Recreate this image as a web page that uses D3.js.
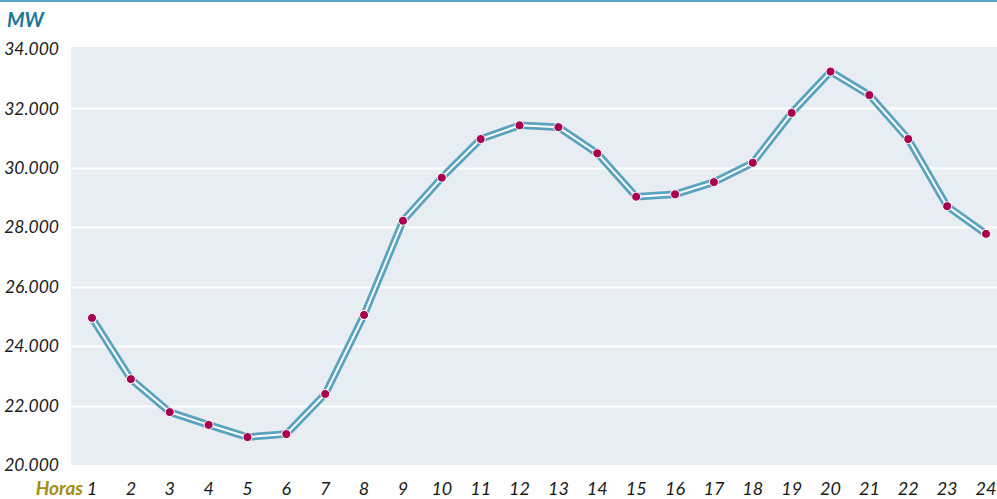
<!DOCTYPE html>
<html>
<head>
<meta charset="utf-8">
<script src="https://cdn.jsdelivr.net/npm/d3@7"></script>
<style>
  body { margin: 0; background: #fff; }
  text { font-family: Lato, "Open Sans", sans-serif; font-style: italic; }
</style>
</head>
<body>
<script>
// hourly demand, MW
var horas = d3.range(1, 25);
var demanda = [24950, 22890, 21780, 21350, 20940, 21040, 22390, 25050, 28220, 29670,
  30970, 31430, 31370, 30490, 29030, 29110, 29520, 30170, 31850, 33240,
  32450, 30970, 28710, 27780];
var yTicks = [20000, 22000, 24000, 26000, 28000, 30000, 32000, 34000];

var width = 997, height = 499;

var svg = d3.select("body").append("svg")
  .attr("width", width)
  .attr("height", height);

var x = d3.scaleLinear().domain([1, 24]).range([92, 986]);
var y = d3.scaleLinear().domain([20000, 34000]).range([465, 49]);

// top rule
svg.append("line")
  .attr("x1", 0).attr("x2", width)
  .attr("y1", 1).attr("y2", 1)
  .attr("stroke", "#5aa6c6")
  .attr("stroke-width", 2);

// plot background
svg.append("rect")
  .attr("x", 71).attr("y", 47)
  .attr("width", width - 71).attr("height", 465 - 47)
  .attr("fill", "#e8edf2");

// grid
svg.selectAll(".grid")
  .data(yTicks.slice(1, -1))
  .enter().append("line")
  .attr("class", "grid")
  .attr("x1", 71).attr("x2", width)
  .attr("y1", function(d) { return Math.round(y(d)) + 0.5; })
  .attr("y2", function(d) { return Math.round(y(d)) + 0.5; })
  .attr("stroke", "#fff")
  .attr("stroke-width", 2);

// y labels
svg.selectAll(".ylab")
  .data(yTicks)
  .enter().append("text")
  .attr("class", "ylab")
  .attr("x", 59)
  .attr("y", function(d) { return y(d); })
  .attr("dy", "0.35em")
  .attr("text-anchor", "end")
  .attr("font-size", 17.5)
  .attr("fill", "#1a1a1a")
  .text(function(d) { return d3.format(".3f")(d / 1000); });

// x labels
svg.selectAll(".xlab")
  .data(horas)
  .enter().append("text")
  .attr("class", "xlab")
  .attr("x", function(d) { return x(d); })
  .attr("y", 495)
  .attr("text-anchor", "middle")
  .attr("font-size", 18)
  .attr("fill", "#1a1a1a")
  .text(function(d) { return d; });

svg.append("text")
  .attr("x", 83).attr("y", 495)
  .attr("text-anchor", "end")
  .attr("font-size", 19)
  .attr("font-weight", "bold")
  .attr("fill", "#a38e12")
  .text("Horas");

svg.append("text")
  .attr("x", 7).attr("y", 27)
  .attr("font-size", 20)
  .attr("font-weight", "bold")
  .attr("fill", "#1b7798")
  .text("MW");

var data = horas.map(function(h, i) { return {h: h, v: demanda[i]}; });

var line = d3.line()
  .x(function(d) { return x(d.h); })
  .y(function(d) { return y(d.v); });

svg.append("path")
  .datum(data)
  .attr("d", line)
  .attr("fill", "none")
  .attr("stroke", "#5aa3bf")
  .attr("stroke-width", 7.5)
  .attr("stroke-linejoin", "round");

svg.append("path")
  .datum(data)
  .attr("d", line)
  .attr("fill", "none")
  .attr("stroke", "#fff")
  .attr("stroke-width", 2)
  .attr("stroke-linejoin", "round");

svg.selectAll(".dot")
  .data(data)
  .enter().append("circle")
  .attr("class", "dot")
  .attr("cx", function(d) { return x(d.h); })
  .attr("cy", function(d) { return y(d.v); })
  .attr("r", 4.5)
  .attr("fill", "#a6004e")
  .attr("stroke", "#fff")
  .attr("stroke-width", 1);
</script>
</body>
</html>
